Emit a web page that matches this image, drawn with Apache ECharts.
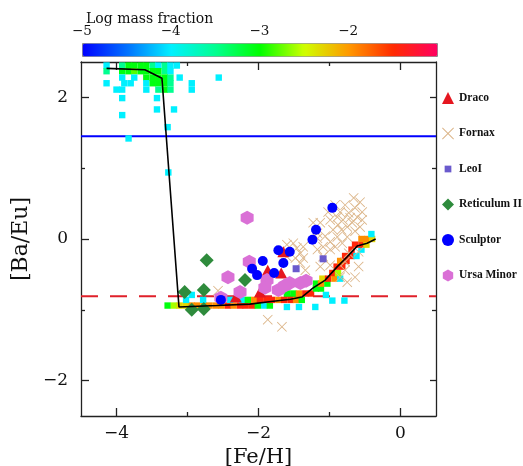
<!DOCTYPE html>
<html><head><meta charset="utf-8">
<script src="https://cdn.jsdelivr.net/npm/echarts@6/dist/echarts.min.js"></script>
<style>html,body{margin:0;padding:0;background:#fff}#c{width:523px;height:466px}</style>
</head><body><div id="c"></div>
<script>
// ---- axes / ticks ----
const xRange = [-4.5, 0.5];
const yRange = [-2.5, 2.5];
const xMajor = [-4, -2, 0];
const xMinor = [-3, -1];
const yMajor = [-2, 0, 2];
const yMinor = [-1, 1];
const cbarRange = [-5, -1];
const cbarTicks = [-5, -4, -3, -2];

// ---- model mass-fraction cells: [Fe/H], [Ba/Eu], log mass fraction ----
const massTop = [
[-4.14,2.45,-4.0],[-3.92,2.45,-3.5],[-3.83,2.45,-3.05],[-3.75,2.45,-3.05],[-3.66,2.45,-3.05],[-3.58,2.45,-3.05],[-3.49,2.45,-3.5],[-3.41,2.45,-4.0],[-3.32,2.45,-3.5],[-3.24,2.45,-4.0],[-3.15,2.45,-4.0],
[-4.14,2.37,-3.5],[-3.92,2.37,-3.05],[-3.83,2.37,-3.05],[-3.75,2.37,-2.8],[-3.66,2.37,-3.05],[-3.58,2.37,-3.05],[-3.49,2.37,-3.05],[-3.41,2.37,-3.05],[-3.32,2.37,-3.5],[-3.24,2.37,-4.0],
[-3.92,2.28,-4.0],[-3.75,2.28,-4.0],[-3.58,2.28,-3.05],[-3.49,2.28,-3.05],[-3.41,2.28,-3.05],[-3.32,2.28,-3.05],[-3.24,2.28,-3.5],[-3.11,2.28,-4.0],[-2.56,2.28,-4.0],
[-4.14,2.20,-4.0],[-3.89,2.20,-4.0],[-3.80,2.20,-4.0],[-3.58,2.20,-4.0],[-3.49,2.20,-3.05],[-3.41,2.20,-3.05],[-3.32,2.20,-3.05],[-3.24,2.20,-3.5],[-2.94,2.20,-4.0],
[-4.00,2.11,-4.0],[-3.92,2.11,-4.0],[-3.58,2.11,-4.0],[-3.41,2.11,-3.5],[-3.32,2.11,-3.05],[-3.24,2.11,-3.5],[-2.94,2.11,-4.0],
[-3.92,1.99,-4.0],[-3.43,1.99,-4.0],
[-3.43,1.83,-4.0],[-3.19,1.83,-4.0],
[-3.92,1.75,-4.0],
[-3.28,1.58,-4.0],
[-3.83,1.42,-4.0],
[-3.27,0.94,-4.0]
];
const massLow = [
[-3.28,-0.94,-3.05],[-3.19,-0.94,-2.6],[-3.11,-0.94,-2.3],[-3.02,-0.94,-2.3],[-2.94,-0.94,-1.95],[-2.86,-0.94,-1.95],[-2.77,-0.94,-1.95],[-2.69,-0.94,-1.95],[-2.60,-0.94,-1.95],[-2.52,-0.94,-1.95],[-2.43,-0.94,-1.45],[-2.35,-0.94,-1.95],[-2.26,-0.94,-1.45],[-2.18,-0.94,-1.45],[-2.09,-0.94,-1.45],[-2.01,-0.94,-3.05],[-1.92,-0.94,-4.0],[-1.84,-0.94,-3.05],[-1.60,-0.96,-4.0],[-1.43,-0.96,-4.0],[-1.20,-0.96,-4.0],
[-3.02,-0.86,-4.0],[-2.94,-0.79,-4.0],[-2.78,-0.86,-4.0],[-2.40,-0.86,-4.0],[-2.23,-0.86,-4.0],[-2.15,-0.86,-3.05],[-2.06,-0.86,-1.95],[-1.98,-0.86,-1.45],[-1.89,-0.86,-1.45],[-1.81,-0.86,-1.45],[-1.72,-0.86,-1.95],[-1.64,-0.86,-1.45],[-1.55,-0.86,-1.45],[-1.47,-0.86,-1.95],[-1.39,-0.86,-3.05],[-0.96,-0.87,-4.0],[-0.79,-0.87,-4.0]
];
const massRise = [
[-1.60,-0.77,-3.05],[-1.51,-0.77,-3.05],[-1.43,-0.77,-1.95],[-1.34,-0.77,-1.45],[-1.26,-0.77,-1.45],[-1.05,-0.79,-4.0],
[-1.19,-0.70,-3.05],[-1.12,-0.70,-3.05],
[-1.19,-0.63,-3.05],[-1.12,-0.63,-1.95],[-1.03,-0.63,-3.05],
[-1.10,-0.56,-2.3],[-1.02,-0.56,-1.45],[-0.93,-0.56,-1.95],[-0.85,-0.56,-4.0],
[-0.96,-0.48,-1.45],[-0.88,-0.48,-2.6],
[-0.90,-0.39,-1.45],[-0.82,-0.39,-1.45],
[-0.85,-0.31,-1.95],[-0.76,-0.31,-1.45],
[-0.78,-0.24,-1.45],[-0.69,-0.24,-1.45],[-0.62,-0.24,-4.0],
[-0.69,-0.15,-1.45],[-0.55,-0.15,-4.0],
[-0.64,-0.08,-1.45],[-0.55,-0.08,-1.45],[-0.48,-0.08,-2.3],
[-0.55,0.00,-1.95],[-0.47,0.00,-1.95],[-0.40,0.00,-2.3],
[-0.41,0.07,-4.0]
];

// ---- observed stars ----
const draco = [[-1.65,-0.18],[-1.87,-0.44],[-1.68,-0.48],[-1.98,-0.75],[-2.32,-0.82]];
const fornax = [[-0.66,0.58],[-0.57,0.52],[-0.78,0.48],[-0.64,0.44],[-0.54,0.38],[-0.85,0.38],[-0.73,0.37],[-0.71,0.30],[-0.61,0.31],[-0.89,0.31],[-0.99,0.27],[-0.81,0.27],[-0.54,0.27],[-1.13,0.23],[-0.68,0.23],[-0.88,0.20],[-0.75,0.17],[-0.57,0.17],[-0.95,0.13],[-0.83,0.13],[-0.64,0.11],[-1.17,0.08],[-1.06,0.04],[-0.89,0.03],[-0.75,0.03],[-0.99,-0.04],[-0.82,-0.06],[-0.92,-0.11],[-1.09,-0.11],[-1.23,0.23],[-1.17,-0.15],[-0.99,-0.15],[-0.73,-0.20],[-1.09,-0.25],[-0.59,-0.18],[-0.78,-0.32],[-0.59,-0.39],[-0.78,-0.44],[-0.85,-0.54],[-0.64,-0.54],[-0.75,-0.61],[-1.13,-0.39],[-0.99,-0.37],[-1.34,-0.44],[-1.37,-0.27],[-1.48,-0.27],[-1.46,-0.13],[-1.37,-0.11],[-1.51,-0.06],[-1.60,-0.08],[-1.41,-0.20],[-1.60,-0.25],[-1.41,-0.34],[-1.17,0.01],[-1.02,0.38],[-0.92,0.48],[-2.57,-0.73],[-1.87,-1.14],[-1.67,-1.24]];
const leoI = [[-1.47,-0.42],[-1.09,-0.28]];
const reticulum = [[-2.73,-0.30],[-2.19,-0.58],[-2.77,-0.72],[-3.04,-0.75],[-2.94,-1.00],[-2.77,-0.99]];
const sculptor = [[-0.96,0.44],[-1.19,0.13],[-1.24,-0.01],[-1.72,-0.16],[-1.56,-0.18],[-1.94,-0.31],[-1.65,-0.34],[-2.09,-0.42],[-2.02,-0.51],[-1.78,-0.48],[-2.53,-0.86]];
const ursaMinor = [[-2.16,0.30],[-2.13,-0.32],[-2.43,-0.54],[-2.26,-0.75],[-2.53,-0.83],[-1.88,-0.58],[-1.91,-0.69],[-1.72,-0.72],[-1.56,-0.62],[-1.41,-0.62],[-1.33,-0.59],[-1.63,-0.66]];

// ---- reference levels & model track ----
const blueLevel = 1.45;
const redLevel = -0.81;
const modelTrack = [[-4.14,2.41],[-3.60,2.39],[-3.36,2.27],[-3.12,-0.96],[-2.59,-0.94],[-2.12,-0.92],[-1.88,-0.89],[-1.55,-0.85],[-1.39,-0.82],[-1.23,-0.69],[-1.06,-0.58],[-0.89,-0.39],[-0.75,-0.25],[-0.61,-0.10],[-0.47,-0.06],[-0.35,0.0]];

// ---- styling ----
const SERIF = 'DejaVu Serif';
const AX = '#222';
const minus = v => String(v).replace('-', '\u2212');
const X_PATH = 'path://M0,0.6L0.6,0L5,4.4L9.4,0L10,0.6L5.6,5L10,9.4L9.4,10L5,5.6L0.6,10L0,9.4L4.4,5Z';
const HEX_PATH = 'path://M5,0L9.33,2.5L9.33,7.5L5,10L0.67,7.5L0.67,2.5Z';
const SMALL_SQ = 'path://M0,0M10,10M2.2,2.2L7.8,2.2L7.8,7.8L2.2,7.8Z';

function xAx(pos, ticks, len, showLine, showLabel, extra) {
  return Object.assign({
    type: 'value', gridIndex: 0, position: pos, min: xRange[0], max: xRange[1],
    axisLine: { show: showLine, onZero: false, lineStyle: { color: AX, width: 1.3 } },
    axisTick: { show: true, inside: true, length: len, customValues: ticks, lineStyle: { color: AX, width: 1.3 } },
    axisLabel: showLabel ? { show: true, customValues: ticks, formatter: minus, margin: 9,
      fontFamily: SERIF, fontSize: 17, color: '#111' } : { show: false },
    splitLine: { show: false }
  }, extra || {});
}
function yAx(pos, ticks, len, showLine, showLabel, extra) {
  return Object.assign({
    type: 'value', gridIndex: 0, position: pos, min: yRange[0], max: yRange[1],
    axisLine: { show: showLine, onZero: false, lineStyle: { color: AX, width: 1.3 } },
    axisTick: { show: true, inside: true, length: len, customValues: ticks, lineStyle: { color: AX, width: 1.3 } },
    axisLabel: showLabel ? { show: true, customValues: ticks, formatter: minus, margin: 13,
      fontFamily: SERIF, fontSize: 17, color: '#111' } : { show: false },
    splitLine: { show: false }
  }, extra || {});
}

const chart = echarts.init(document.getElementById('c'), null, { renderer: 'canvas' });
const option = {
  animation: false,
  backgroundColor: '#fff',
  title: { text: 'Log mass fraction', left: 81, top: 7,
    textStyle: { fontFamily: SERIF, fontSize: 14, fontWeight: 'normal', color: '#111' } },
  grid: [
    { left: 81, right: 87, top: 62, bottom: 50, outerBoundsMode: 'none', containLabel: false },
    { left: 82, width: 355, top: 43, height: 13, outerBoundsMode: 'none', containLabel: false }
  ],
  xAxis: [
    xAx('bottom', xMajor, 8, true, true, { name: '[Fe/H]', nameLocation: 'middle', nameGap: 18,
      nameTextStyle: { fontFamily: SERIF, fontSize: 21, color: '#111' } }),
    xAx('bottom', xMinor, 4, false, false),
    xAx('top', xMajor, 8, true, false),
    xAx('top', xMinor, 4, false, false),
    { type: 'value', gridIndex: 1, position: 'top', min: cbarRange[0], max: cbarRange[1],
      axisLine: { show: false }, axisTick: { show: false }, splitLine: { show: false },
      axisLabel: { show: true, customValues: cbarTicks, formatter: minus, margin: 5,
        fontFamily: SERIF, fontSize: 13.5, color: '#111' } }
  ],
  yAxis: [
    yAx('left', yMajor, 8, true, true, { name: '[Ba/Eu]', nameLocation: 'middle', nameGap: 47,
      nameTextStyle: { fontFamily: SERIF, fontSize: 22, color: '#111' } }),
    yAx('left', yMinor, 4, false, false),
    yAx('right', yMajor, 6, true, false),
    yAx('right', yMinor, 4, false, false),
    { type: 'value', gridIndex: 1, show: false, min: 0, max: 1 }
  ],
  visualMap: {
    type: 'continuous', seriesIndex: 0, dimension: 2, min: cbarRange[0], max: cbarRange[1],
    orient: 'horizontal', left: 82, top: 43, itemWidth: 13, itemHeight: 355,
    calculable: false, hoverLink: false, padding: 0, borderColor: '#888', borderWidth: 1,
    inRange: { color: ['#0000ff','#0070ff','#00f0ff','#00ff90','#00ff00','#d0ff00','#ff9900','#ff2a00','#ff0060'] }
  },
  legend: {
    orient: 'vertical', left: 437, top: 87, itemWidth: 12, itemHeight: 12, itemGap: 23.5,
    textStyle: { fontFamily: 'Liberation Serif', fontWeight: 'bold', fontSize: 11.5, color: '#111' },
    data: [
      { name: 'Draco' }, { name: 'Fornax' }, { name: 'LeoI', icon: SMALL_SQ },
      { name: 'Reticulum II' }, { name: 'Sculptor' }, { name: 'Ursa Minor' }
    ]
  },
  series: [
    { type: 'scatter', name: 'mass', data: massTop.concat(massLow, massRise), symbol: 'rect', symbolSize: 6.4,
      itemStyle: { opacity: 1 }, xAxisIndex: 0, yAxisIndex: 0, z: 3, silent: true },
    { type: 'line', data: [[xRange[0], blueLevel], [xRange[1], blueLevel]], symbol: 'none', silent: true,
      lineStyle: { color: '#0000ff', width: 2 }, z: 2 },
    { type: 'line', data: [[xRange[0], redLevel], [xRange[1], redLevel]], symbol: 'none', silent: true,
      lineStyle: { color: '#e0202a', width: 2, type: [17, 12] }, z: 2 },
    { type: 'scatter', name: 'Fornax', data: fornax, symbol: X_PATH, symbolSize: 10,
      itemStyle: { color: '#dcb68a', opacity: 1 }, z: 4 },
    { type: 'scatter', name: 'Draco', data: draco, symbol: 'triangle', symbolSize: [12, 11],
      itemStyle: { color: '#e5161f', opacity: 1 }, z: 4 },
    { type: 'scatter', name: 'LeoI', data: leoI, symbol: 'rect', symbolSize: 7,
      itemStyle: { color: '#6a5acd', opacity: 1 }, z: 4 },
    { type: 'scatter', name: 'Reticulum II', data: reticulum, symbol: 'diamond', symbolSize: 14,
      itemStyle: { color: '#2e8b3c', opacity: 1 }, z: 4 },
    { type: 'scatter', name: 'Ursa Minor', data: ursaMinor, symbol: HEX_PATH, symbolSize: [13, 14],
      itemStyle: { color: '#da70d6', opacity: 1 }, z: 4 },
    { type: 'scatter', name: 'Sculptor', data: sculptor, symbol: 'circle', symbolSize: 10,
      itemStyle: { color: '#0000ff', opacity: 1 }, z: 4 },
    { type: 'line', data: modelTrack, symbol: 'none', silent: true,
      lineStyle: { color: '#000', width: 1.6 }, z: 6 }
  ]
};
chart.setOption(option);
</script></body></html>
